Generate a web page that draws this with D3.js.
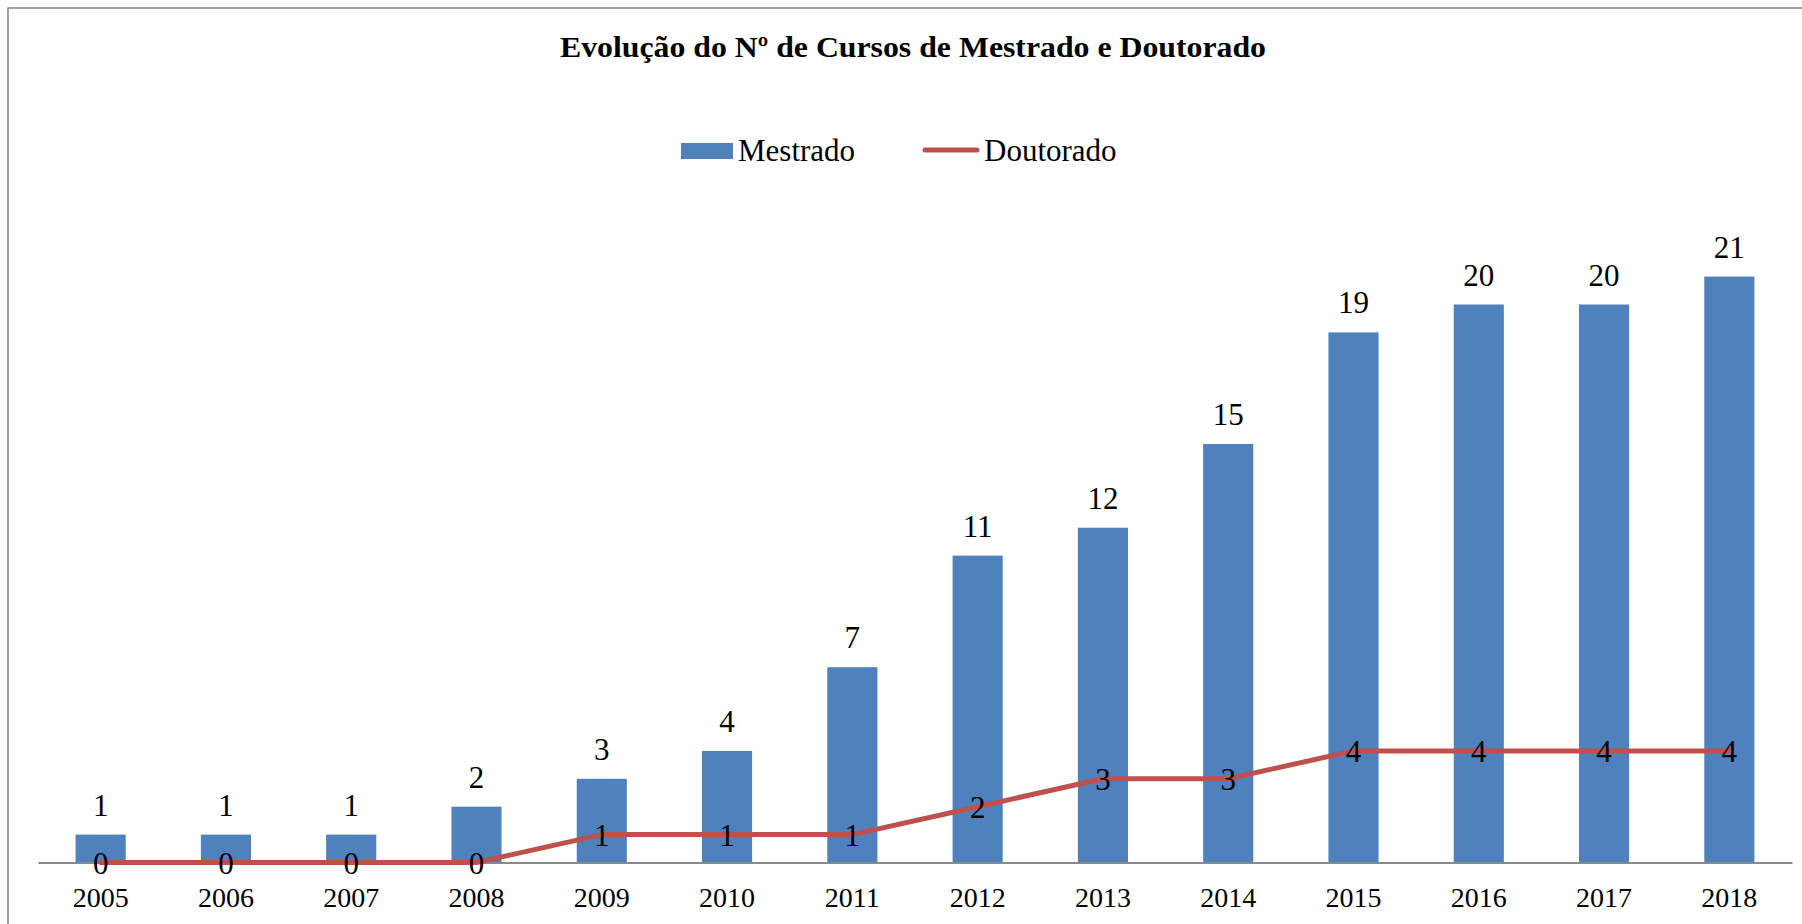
<!DOCTYPE html>
<html>
<head>
<meta charset="utf-8">
<script src="https://cdn.jsdelivr.net/npm/d3@7"></script>
<style>
  html, body { margin: 0; padding: 0; background: #fff; }
  svg { display: block; }
</style>
</head>
<body>
<svg id="grafico"></svg>
<script>
// Dados do grafico
const anos = ["2005", "2006", "2007", "2008", "2009", "2010", "2011", "2012", "2013", "2014", "2015", "2016", "2017", "2018"];
const mestrado = [1, 1, 1, 2, 3, 4, 7, 11, 12, 15, 19, 20, 20, 21];
const doutorado = [0, 0, 0, 0, 1, 1, 1, 2, 3, 3, 4, 4, 4, 4];
const titulo = "Evolução do Nº de Cursos de Mestrado e Doutorado";
const nomesSeries = ["Mestrado", "Doutorado"];

const width = 1802, height = 924;
const fonte = "Liberation Serif";
const corBarra = "#4F81BD";
const corLinha = "#C0504D";

const svg = d3.select("#grafico")
    .attr("width", width)
    .attr("height", height)
    .attr("font-family", fonte);

// Chenar
svg.append("rect")
    .attr("x", 8)
    .attr("y", 8)
    .attr("width", width)
    .attr("height", height)
    .attr("fill", "#fff")
    .attr("stroke", "#868686")
    .attr("stroke-width", 1.5);

const margin = { left: 38, right: 10, top: 165, bottom: 61.5 };

const x = d3.scaleBand()
    .domain(anos)
    .range([margin.left, width - margin.right])
    .paddingInner(0.6)
    .paddingOuter(0.3);

const y = d3.scaleLinear()
    .domain([0, 25])
    .range([height - margin.bottom, margin.top]);

// Barras Mestrado
svg.append("g")
    .selectAll("rect")
    .data(mestrado)
    .join("rect")
    .attr("x", (d, i) => x(anos[i]))
    .attr("y", d => y(d))
    .attr("width", x.bandwidth())
    .attr("height", d => y(0) - y(d))
    .attr("fill", corBarra);

// Eixo X
const xAxis = d3.axisBottom(x).tickSize(0).tickPadding(0);
const gx = svg.append("g")
    .attr("transform", `translate(0,${y(0)})`)
    .call(xAxis)
    .attr("font-family", fonte);
gx.select(".domain")
    .attr("stroke", "#898989")
    .attr("stroke-width", 2);
gx.selectAll("text")
    .attr("y", 44.5)
    .attr("dy", null)
    .attr("font-family", fonte)
    .attr("font-size", 28)
    .attr("fill", "#000");

// Rotulos das barras
svg.append("g")
    .selectAll("text")
    .data(mestrado)
    .join("text")
    .attr("x", (d, i) => x(anos[i]) + x.bandwidth() / 2)
    .attr("y", d => y(d) - 19)
    .attr("text-anchor", "middle")
    .attr("font-family", fonte)
    .attr("font-size", 31)
    .text(d => d);

// Linha Doutorado
const linha = d3.line()
    .x((d, i) => x(anos[i]) + x.bandwidth() / 2)
    .y(d => y(d));

svg.append("path")
    .datum(doutorado)
    .attr("fill", "none")
    .attr("stroke", corLinha)
    .attr("stroke-width", 5)
    .attr("stroke-linejoin", "round")
    .attr("stroke-linecap", "round")
    .attr("d", linha);

// Rotulos da linha
svg.append("g")
    .selectAll("text")
    .data(doutorado)
    .join("text")
    .attr("x", (d, i) => x(anos[i]) + x.bandwidth() / 2)
    .attr("y", d => y(d) + 11)
    .attr("text-anchor", "middle")
    .attr("font-family", fonte)
    .attr("font-size", 31)
    .text(d => d);

// Titulo
svg.append("text")
    .attr("x", 913)
    .attr("y", 57)
    .attr("text-anchor", "middle")
    .attr("font-family", fonte)
    .attr("font-weight", "bold")
    .attr("font-size", 30)
    .attr("textLength", 706)
    .attr("lengthAdjust", "spacingAndGlyphs")
    .text(titulo);

// Legenda
const leg = svg.append("g");
leg.append("rect")
    .attr("x", 681)
    .attr("y", 143)
    .attr("width", 52)
    .attr("height", 16)
    .attr("fill", corBarra);
leg.append("text")
    .attr("x", 738)
    .attr("y", 161)
    .attr("font-family", fonte)
    .attr("font-size", 31)
    .text(nomesSeries[0]);
leg.append("line")
    .attr("x1", 925)
    .attr("x2", 977)
    .attr("y1", 150)
    .attr("y2", 150)
    .attr("stroke", corLinha)
    .attr("stroke-width", 5)
    .attr("stroke-linecap", "round");
leg.append("text")
    .attr("x", 984)
    .attr("y", 161)
    .attr("font-family", fonte)
    .attr("font-size", 31)
    .text(nomesSeries[1]);
</script>
</body>
</html>
